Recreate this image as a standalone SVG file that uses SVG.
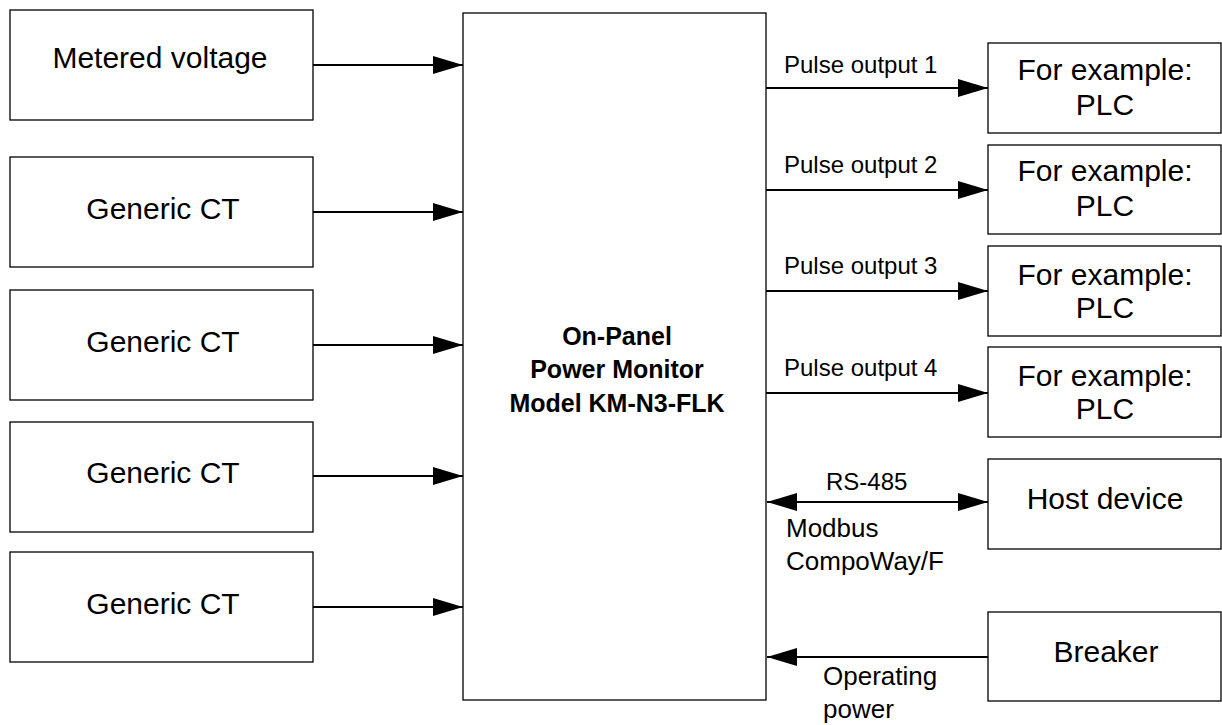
<svg xmlns="http://www.w3.org/2000/svg" width="1222" height="725" viewBox="0 0 1222 725">
<style>
.box{fill:#fff;stroke:#000;stroke-width:1.3}
.t{font-family:"Liberation Sans",Arial,sans-serif;font-size:30px;fill:#000;text-anchor:middle}
.b{font-family:"Liberation Sans",Arial,sans-serif;font-size:25px;font-weight:bold;fill:#000;text-anchor:middle}
.l{font-family:"Liberation Sans",Arial,sans-serif;font-size:24px;fill:#000}
.m{font-family:"Liberation Sans",Arial,sans-serif;font-size:26px;fill:#000}
.c{stroke:#000;stroke-width:2.2;fill:none}
</style>
<defs>
<marker id="ah" markerUnits="userSpaceOnUse" markerWidth="31" markerHeight="18" refX="30" refY="9" orient="auto-start-reverse" viewBox="0 0 31 18">
<path d="M0,0 L30,9 L0,18 Z" fill="#000"/>
</marker>
</defs>
<rect width="1222" height="725" fill="#fff"/>
<g id="metered-voltage"><rect class="box" x="10" y="10" width="303" height="110"/><text class="t" x="160" y="68">Metered voltage</text></g>
<g id="ct1"><rect class="box" x="10" y="157" width="303" height="110"/><text class="t" x="163" y="219">Generic CT</text></g>
<g id="ct2"><rect class="box" x="10" y="290" width="303" height="110"/><text class="t" x="163" y="352">Generic CT</text></g>
<g id="ct3"><rect class="box" x="10" y="422" width="303" height="110"/><text class="t" x="163" y="483">Generic CT</text></g>
<g id="ct4"><rect class="box" x="10" y="552" width="303" height="110"/><text class="t" x="163" y="614">Generic CT</text></g>
<g id="monitor"><rect class="box" x="463" y="13" width="303" height="687"/>
<text class="b" x="617" y="345">On-Panel</text>
<text class="b" x="617" y="378">Power Monitor</text>
<text class="b" x="617" y="412">Model KM-N3-FLK</text></g>
<g id="plc1"><rect class="box" x="988" y="43" width="233" height="90"/><text class="t" x="1105" y="80">For example:</text><text class="t" x="1105" y="115">PLC</text></g>
<g id="plc2"><rect class="box" x="988" y="145" width="233" height="89"/><text class="t" x="1105" y="181">For example:</text><text class="t" x="1105" y="216">PLC</text></g>
<g id="plc3"><rect class="box" x="988" y="246" width="233" height="90"/><text class="t" x="1105" y="285">For example:</text><text class="t" x="1105" y="318">PLC</text></g>
<g id="plc4"><rect class="box" x="988" y="347" width="233" height="90"/><text class="t" x="1105" y="386">For example:</text><text class="t" x="1105" y="419">PLC</text></g>
<g id="host"><rect class="box" x="988" y="459" width="233" height="90"/><text class="t" x="1105" y="509">Host device</text></g>
<g id="breaker"><rect class="box" x="988" y="612" width="233" height="89"/><text class="t" x="1106" y="662">Breaker</text></g>
<g id="connectors">
<line class="c" x1="313" y1="65" x2="463" y2="65" marker-end="url(#ah)"/>
<line class="c" x1="313" y1="212" x2="463" y2="212" marker-end="url(#ah)"/>
<line class="c" x1="313" y1="345" x2="463" y2="345" marker-end="url(#ah)"/>
<line class="c" x1="313" y1="476" x2="463" y2="476" marker-end="url(#ah)"/>
<line class="c" x1="313" y1="607" x2="463" y2="607" marker-end="url(#ah)"/>
<line class="c" x1="766" y1="88" x2="988" y2="88" marker-end="url(#ah)"/>
<line class="c" x1="766" y1="190" x2="988" y2="190" marker-end="url(#ah)"/>
<line class="c" x1="766" y1="291" x2="988" y2="291" marker-end="url(#ah)"/>
<line class="c" x1="766" y1="393" x2="988" y2="393" marker-end="url(#ah)"/>
<line class="c" x1="767" y1="502" x2="988" y2="502" marker-start="url(#ah)" marker-end="url(#ah)"/>
<line class="c" x1="988" y1="657" x2="767" y2="657" marker-end="url(#ah)"/>
<text class="l" x="784" y="73">Pulse output 1</text>
<text class="l" x="784" y="173">Pulse output 2</text>
<text class="l" x="784" y="274">Pulse output 3</text>
<text class="l" x="784" y="376">Pulse output 4</text>
<text class="l" x="826" y="490">RS-485</text>
<text class="m" x="786" y="537">Modbus</text>
<text class="m" x="786" y="570">CompoWay/F</text>
<text class="m" x="823" y="685">Operating</text>
<text class="m" x="823" y="718">power</text>
</g>
</svg>
